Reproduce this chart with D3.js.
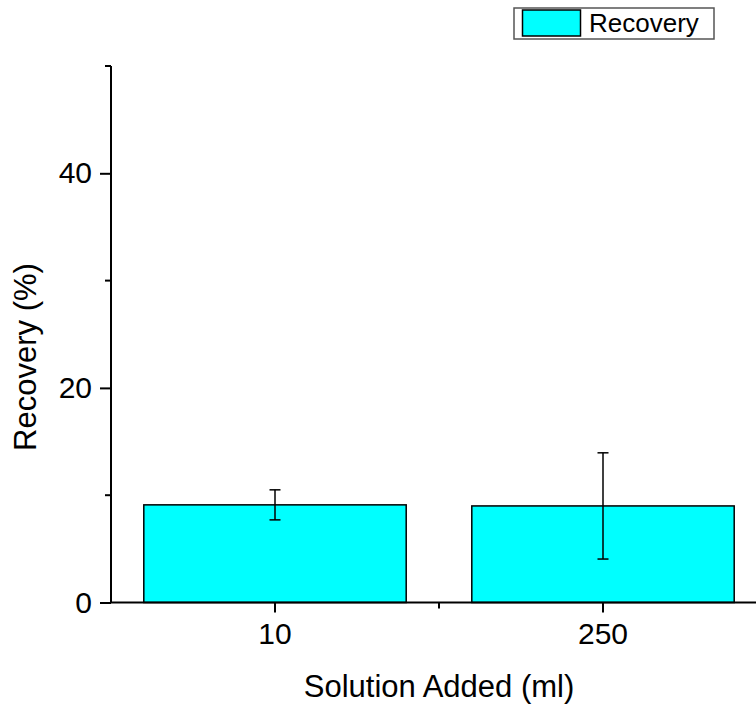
<!DOCTYPE html>
<html>
<head>
<meta charset="utf-8">
<script src="https://cdn.jsdelivr.net/npm/d3@7"></script>
<style>
  body { margin: 0; background: #fff; }
  svg text { font-family: "Liberation Sans", Arial, sans-serif; fill: #000; }
</style>
</head>
<body>
<div id="chart"></div>
<script>
// data
var categories = ["10", "250"];
var recovery = [9.1, 9.0];
var recoveryErr = [1.4, 4.95];
var yMajorTicks = [0, 20, 40];
var yMinorTicks = [10, 30, 50];

var svgWidth = 756;
var svgHeight = 707;

var svg = d3.select("#chart")
    .append("svg")
    .attr("width", svgWidth)
    .attr("height", svgHeight);

// plot area edges (right edge runs past the window, as in the original)
var plotLeft = 111, plotBottom = 602.5, plotTop = 66, plotRight = 767;

var x = d3.scaleBand()
    .domain(categories)
    .range([plotLeft, plotRight])
    .paddingInner(0.2)
    .paddingOuter(0.1);

var y = d3.scaleLinear()
    .domain([0, 50])
    .range([plotBottom, plotTop]);

// bars
svg.selectAll("rect.bar")
    .data(categories)
    .enter()
    .append("rect")
    .attr("class", "bar")
    .attr("x", d => x(d))
    .attr("y", (d, i) => y(recovery[i]))
    .attr("width", x.bandwidth())
    .attr("height", (d, i) => y(0) - y(recovery[i]))
    .attr("fill", "#00ffff")
    .attr("stroke", "#000")
    .attr("stroke-width", 1.5);

// error bars
var err = svg.selectAll("g.err")
    .data(categories)
    .enter()
    .append("g")
    .attr("class", "err")
    .attr("stroke", "#000")
    .attr("stroke-width", 1.5);

err.append("line")
    .attr("x1", d => x(d) + x.bandwidth() / 2)
    .attr("x2", d => x(d) + x.bandwidth() / 2)
    .attr("y1", (d, i) => y(recovery[i] + recoveryErr[i]))
    .attr("y2", (d, i) => y(recovery[i] - recoveryErr[i]));

[1, -1].forEach(function(s) {
    err.append("line")
        .attr("x1", d => x(d) + x.bandwidth() / 2 - 5.5)
        .attr("x2", d => x(d) + x.bandwidth() / 2 + 5.5)
        .attr("y1", (d, i) => y(recovery[i] + s * recoveryErr[i]))
        .attr("y2", (d, i) => y(recovery[i] + s * recoveryErr[i]));
});

// y axis
var yAxis = svg.append("g")
    .attr("transform", `translate(${plotLeft},0)`)
    .call(d3.axisLeft(y).tickValues(yMajorTicks).tickSize(11).tickPadding(8).tickSizeOuter(0));
yAxis.selectAll("text").style("font-size", "30px");
yAxis.selectAll("line, path").attr("stroke", "#000").attr("stroke-width", 2);
yAxis.select("path").attr("d", `M0,${plotBottom}V${plotTop}`);

svg.append("g")
    .selectAll("line")
    .data(yMinorTicks)
    .enter()
    .append("line")
    .attr("x1", plotLeft - 6)
    .attr("x2", plotLeft)
    .attr("y1", d => y(d))
    .attr("y2", d => y(d))
    .attr("stroke", "#000")
    .attr("stroke-width", 2);

// x axis
var xAxis = svg.append("g")
    .attr("transform", `translate(0,${plotBottom})`)
    .call(d3.axisBottom(x).tickSize(10).tickPadding(10).tickSizeOuter(0));
xAxis.selectAll("text").style("font-size", "30px");
xAxis.selectAll("line, path").attr("stroke", "#000").attr("stroke-width", 2);
xAxis.select("path").attr("d", `M${plotLeft},0H${plotRight}`);

// minor ticks between categories
svg.append("g")
    .selectAll("line")
    .data(categories.slice(1))
    .enter()
    .append("line")
    .attr("x1", d => x(d) - x.step() * x.paddingInner() / 2)
    .attr("x2", d => x(d) - x.step() * x.paddingInner() / 2)
    .attr("y1", plotBottom)
    .attr("y2", plotBottom + 6)
    .attr("stroke", "#000")
    .attr("stroke-width", 2);

// axis titles
svg.append("text")
    .attr("x", 439)
    .attr("y", 697)
    .attr("text-anchor", "middle")
    .style("font-size", "31px")
    .text("Solution Added (ml)");

svg.append("text")
    .attr("transform", "translate(36,357) rotate(-90)")
    .attr("text-anchor", "middle")
    .style("font-size", "31px")
    .text("Recovery (%)");

// legend
var legend = svg.append("g");
legend.append("rect")
    .attr("x", 514)
    .attr("y", 8)
    .attr("width", 200)
    .attr("height", 31)
    .attr("fill", "#fff")
    .attr("stroke", "#555")
    .attr("stroke-width", 1.5);
legend.append("rect")
    .attr("x", 522.5)
    .attr("y", 10)
    .attr("width", 58)
    .attr("height", 26)
    .attr("fill", "#00ffff")
    .attr("stroke", "#000")
    .attr("stroke-width", 1.5);
legend.append("text")
    .attr("x", 589)
    .attr("y", 32)
    .style("font-size", "26px")
    .text("Recovery");
</script>
</body>
</html>
